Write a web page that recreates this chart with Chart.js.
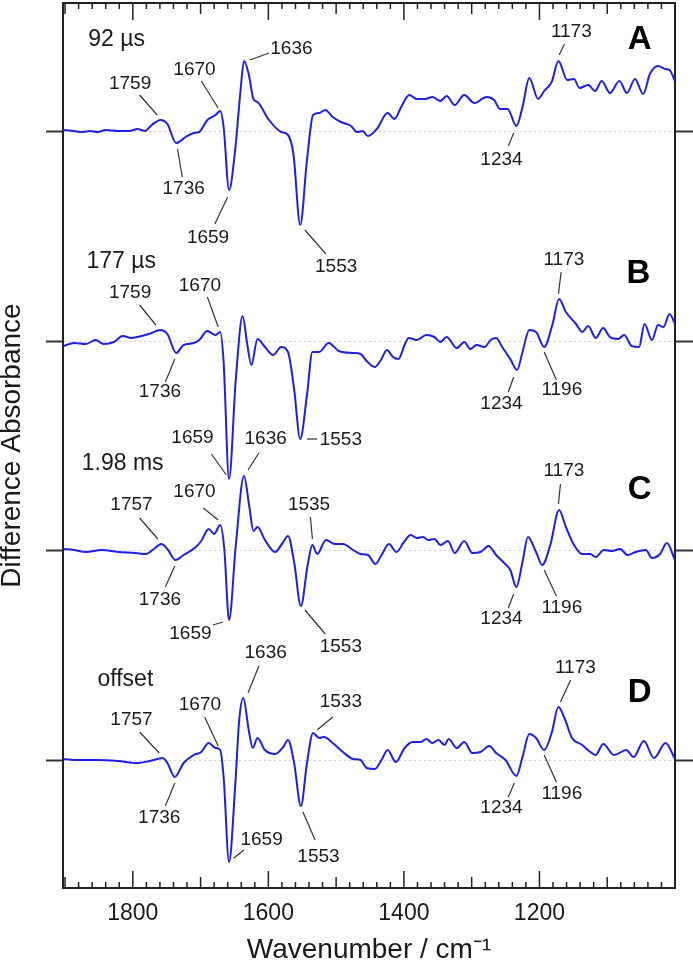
<!DOCTYPE html>
<html>
<head>
<meta charset="utf-8">
<script src="https://cdn.jsdelivr.net/npm/chart.js@4.4.0/dist/chart.umd.min.js"></script>
<style>
  html, body { margin: 0; padding: 0; background: #fff; }
  #chart { display: block; }
</style>
</head>
<body>
<canvas id="chart" width="693" height="967"></canvas>
<script>
// wavenumber (cm-1) and difference absorbance for each trace (arbitrary units)
const wnA = [1902,1887,1875,1863,1852,1840,1822,1805,1793,1782,1772,1759,1749,1736,1722,1710,1702,1690,1678,1671,1666,1658,1649,1641,1636,1629,1622,1616,1599,1581,1571,1563,1553,1543,1534,1525,1516,1505,1493,1478,1469,1461,1453,1440,1424,1414,1404,1392,1381,1369,1358,1346,1337,1325,1311,1296,1278,1267,1258,1247,1234,1225,1215,1202,1193,1182,1172,1159,1149,1141,1128,1118,1108,1096,1082,1071,1059,1047,1037,1025,1014,1008,1000];
const absA = [0.01,0,-0.01,0,-0.01,0.01,0,0,0.02,0,0.06,0.11,0.07,-0.12,-0.06,-0.02,-0.01,0.11,0.16,0.2,0.04,-0.59,-0.19,0.41,0.7,0.57,0.32,0.29,0.11,-0.01,-0.04,-0.23,-0.94,-0.29,0.16,0.18,0.21,0.14,0.09,0.05,-0.01,0,-0.05,0.02,0.18,0.12,0.24,0.36,0.32,0.32,0.34,0.3,0.35,0.26,0.36,0.28,0.34,0.31,0.22,0.22,0.05,0.24,0.53,0.32,0.4,0.49,0.7,0.51,0.52,0.43,0.46,0.4,0.5,0.38,0.5,0.38,0.52,0.37,0.57,0.65,0.62,0.61,0.5];

const wnB = [1902,1887,1869,1855,1843,1828,1815,1802,1787,1772,1760,1749,1736,1725,1710,1702,1690,1678,1671,1666,1658,1648,1638,1631,1625,1616,1605,1593,1581,1571,1562,1553,1543,1535,1525,1511,1496,1475,1464,1455,1443,1434,1425,1416,1408,1399,1393,1381,1367,1355,1346,1337,1322,1311,1302,1293,1281,1272,1264,1255,1243,1233,1225,1215,1205,1193,1181,1171,1161,1146,1137,1128,1117,1106,1096,1084,1075,1064,1053,1045,1034,1025,1017,1008,1000];
const absB = [-0.04,-0.01,-0.02,0.02,-0.02,0,0.06,0.04,0.06,0.09,0.12,0.08,-0.11,-0.03,-0.01,0.02,0.11,0.07,0.1,-0.2,-1.37,-0.37,0.26,-0.03,-0.23,0.03,-0.05,-0.13,-0.05,-0.1,-0.47,-0.97,-0.53,-0.1,-0.1,-0.01,-0.09,-0.11,-0.12,-0.19,-0.25,-0.18,-0.08,-0.15,-0.17,-0.03,0.04,0.02,0.07,0.05,0,0.05,-0.06,0,-0.07,-0.03,-0.05,0.02,0.04,-0.05,-0.17,-0.28,-0.1,0.12,0.1,-0.05,0.17,0.43,0.3,0.18,0.1,0.16,0.04,0.14,0.05,0.03,0.07,-0.04,-0.05,0.18,0.02,0.17,0.15,0.28,0.18];

const wnC = [1902,1887,1869,1846,1822,1796,1781,1769,1758,1749,1737,1725,1707,1699,1688,1680,1671,1665,1658,1648,1636,1628,1622,1616,1605,1590,1580,1571,1562,1552,1542,1535,1528,1515,1502,1490,1475,1464,1453,1442,1433,1422,1411,1400,1390,1381,1372,1364,1355,1346,1335,1325,1311,1299,1287,1275,1264,1252,1243,1234,1225,1217,1205,1196,1184,1171,1161,1149,1137,1125,1117,1105,1093,1081,1070,1058,1043,1034,1022,1012,1000];
const absC = [0.02,0.01,-0.01,0.01,-0.01,-0.02,-0.03,0.02,0.07,0.02,-0.09,-0.04,0.04,0.1,0.22,0.17,0.26,0.02,-0.69,0.06,0.75,0.44,0.2,0.24,0.11,-0.01,0.07,0.15,-0.11,-0.55,-0.14,0.06,-0.03,0.11,0.07,0.07,0.01,-0.03,-0.04,-0.13,-0.04,0.07,-0.01,0.09,0.16,0.13,0.14,0.11,0.12,0.06,0.1,-0.02,0.1,-0.02,-0.01,0.05,-0.04,-0.12,-0.19,-0.36,-0.11,0.14,-0.01,-0.14,0.06,0.41,0.24,0.06,-0.03,-0.03,-0.06,0.01,0,0.02,-0.04,-0.01,0.01,-0.07,-0.03,0.08,-0.09];

const wnD = [1902,1881,1852,1822,1793,1775,1756,1749,1738,1725,1710,1699,1688,1678,1671,1666,1658,1649,1643,1637,1629,1623,1616,1605,1590,1578,1571,1562,1552,1543,1534,1525,1518,1505,1490,1475,1464,1455,1443,1433,1424,1412,1399,1387,1375,1367,1358,1349,1340,1334,1322,1311,1299,1287,1274,1264,1250,1234,1225,1215,1205,1193,1182,1172,1162,1152,1137,1125,1117,1106,1090,1072,1061,1046,1031,1014,1000];
const absD = [0.01,0,0,-0.01,-0.03,-0.01,0.02,-0.03,-0.17,-0.03,0.05,0.08,0.17,0.12,0.1,-0.17,-1.02,-0.27,0.4,0.62,0.3,0.12,0.22,0.1,0.06,0.13,0.2,-0.03,-0.46,-0.03,0.27,0.22,0.23,0.17,0.08,0.01,0,-0.08,-0.09,0,0.1,-0.02,0.12,0.18,0.18,0.21,0.17,0.2,0.15,0.21,0.12,0.18,0.07,0.08,0.14,0.07,0,-0.16,0.03,0.26,0.22,0.1,0.27,0.53,0.4,0.22,0.15,0.08,0.05,0.16,0.05,0.1,0.03,0.19,0.02,0.17,0.01];

const panelOffsets = [6.29, 4.18, 2.09, 0];
const panelLetters = ['A', 'B', 'C', 'D'];
const timeLabels = ['92 \u00b5s', '177 \u00b5s', '1.98 ms', 'offset'];
const xTickValues = [1800, 1600, 1400, 1200];

// where the panel texts sit: [wavenumber, height above the panel baseline]
const letterPos = [[1052, 0.91], [1054, 0.68], [1052, 0.61], [1052, 0.67]];
const timePos = [[1824, 0.91], [1817, 0.80], [1815, 0.87], [1811, 0.80]];

// peak labels: [panel, text, label x, label y, leader x1, y1, x2, y2]
const peakLabels = [
  [0, '1759', 1804, 0.47, 1790, 0.36, 1764, 0.16],
  [0, '1670', 1709, 0.61, 1699, 0.50, 1674, 0.23],
  [0, '1636', 1566, 0.82, 1627, 0.71, 1599, 0.78],
  [0, '1736', 1725, -0.58, 1734, -0.18, 1727, -0.46],
  [0, '1659', 1689, -1.07, 1660, -0.66, 1679, -0.93],
  [0, '1553', 1500, -1.36, 1546, -0.99, 1515, -1.23],
  [0, '1234', 1256, -0.29, 1238, -0.02, 1246, -0.15],
  [0, '1173', 1153, 0.99, 1163, 0.87, 1171, 0.76],

  [1, '1759', 1804, 0.49, 1790, 0.37, 1766, 0.17],
  [1, '1670', 1701, 0.56, 1690, 0.45, 1674, 0.15],
  [1, '1736', 1760, -0.50, 1738, -0.17, 1752, -0.40],
  [1, '1659', 1712, -0.96, 1684, -1.12, 1662, -1.33],
  [1, '1553', 1493, -0.98, 1543, -0.97, 1528, -0.97],
  [1, '1234', 1256, -0.62, 1238, -0.35, 1246, -0.50],
  [1, '1196', 1167, -0.48, 1193, -0.10, 1175, -0.38],
  [1, '1173', 1164, 0.82, 1168, 0.70, 1172, 0.48],

  [2, '1757', 1802, 0.46, 1790, 0.33, 1763, 0.12],
  [2, '1670', 1709, 0.59, 1696, 0.43, 1674, 0.31],
  [2, '1636', 1604, 1.12, 1614, 0.98, 1630, 0.81],
  [2, '1535', 1540, 0.46, 1538, 0.34, 1535, 0.12],
  [2, '1736', 1760, -0.49, 1738, -0.15, 1752, -0.36],
  [2, '1659', 1715, -0.83, 1682, -0.74, 1667, -0.71],
  [2, '1553', 1493, -0.96, 1546, -0.59, 1516, -0.83],
  [2, '1234', 1256, -0.68, 1238, -0.43, 1246, -0.57],
  [2, '1196', 1167, -0.57, 1193, -0.19, 1175, -0.45],
  [2, '1173', 1164, 0.80, 1169, 0.67, 1172, 0.47],

  [3, '1757', 1802, 0.40, 1790, 0.28, 1761, 0.07],
  [3, '1670', 1701, 0.55, 1694, 0.43, 1674, 0.14],
  [3, '1636', 1604, 1.07, 1614, 0.94, 1630, 0.67],
  [3, '1533', 1493, 0.58, 1505, 0.43, 1528, 0.30],
  [3, '1736', 1761, -0.58, 1738, -0.23, 1752, -0.46],
  [3, '1659', 1610, -0.80, 1636, -0.90, 1651, -0.98],
  [3, '1553', 1526, -0.97, 1549, -0.52, 1531, -0.80],
  [3, '1234', 1256, -0.48, 1237, -0.23, 1246, -0.37],
  [3, '1196', 1167, -0.34, 1193, 0.05, 1175, -0.22],
  [3, '1173', 1147, 0.92, 1154, 0.80, 1169, 0.58]
];

const FONT = '"Liberation Sans", Arial, Helvetica, sans-serif';
const INK = '#1a1a1a';
const spectra = [[wnA, absA], [wnB, absB], [wnC, absC], [wnD, absD]];

// inward ticks on top/bottom frame + all the text annotations
const decorations = {
  id: 'decorations',
  afterDraw(chart) {
    const { ctx, chartArea: a, scales: { x, y } } = chart;
    ctx.save();
    ctx.strokeStyle = '#222';
    ctx.lineWidth = 1.5;
    for (let v = 1900; v > 1000; v -= 20) {
      const px = x.getPixelForValue(v);
      const len = v % 200 === 0 ? 17 : (v % 100 === 0 ? 11 : 6);
      ctx.beginPath();
      ctx.moveTo(px, a.bottom); ctx.lineTo(px, a.bottom - len);
      ctx.moveTo(px, a.top); ctx.lineTo(px, a.top + len);
      ctx.stroke();
    }

    ctx.textAlign = 'center';
    ctx.textBaseline = 'middle';
    ctx.fillStyle = INK;

    // leader lines and peak positions
    ctx.strokeStyle = '#333';
    ctx.lineWidth = 1.2;
    ctx.font = '19px ' + FONT;
    peakLabels.forEach(([p, txt, tx, ty, x1, y1, x2, y2]) => {
      const off = panelOffsets[p];
      ctx.beginPath();
      ctx.moveTo(x.getPixelForValue(x1), y.getPixelForValue(y1 + off));
      ctx.lineTo(x.getPixelForValue(x2), y.getPixelForValue(y2 + off));
      ctx.stroke();
      ctx.fillText(txt, x.getPixelForValue(tx), y.getPixelForValue(ty + off));
    });

    ctx.font = '23px ' + FONT;
    timeLabels.forEach((t, i) => {
      ctx.fillText(t, x.getPixelForValue(timePos[i][0]), y.getPixelForValue(timePos[i][1] + panelOffsets[i]));
    });

    ctx.fillStyle = '#000';
    ctx.font = 'bold 33px ' + FONT;
    panelLetters.forEach((t, i) => {
      ctx.fillText(t, x.getPixelForValue(letterPos[i][0]), y.getPixelForValue(letterPos[i][1] + panelOffsets[i]));
    });
    ctx.restore();
  }
};

const baselineTicks = s => { s.ticks = panelOffsets.map(v => ({ value: v })); };

new Chart(document.getElementById('chart').getContext('2d'), {
  type: 'line',
  data: {
    datasets: spectra.map(([wn, ab], i) => ({
      label: panelLetters[i],
      data: wn.map((w, k) => ({ x: w, y: ab[k] + panelOffsets[i] })),
      borderColor: '#1e1ee6',
      borderWidth: 2,
      pointRadius: 0,
      fill: false,
      cubicInterpolationMode: 'monotone',
      xAxisID: 'x',
      yAxisID: 'y'
    }))
  },
  options: {
    responsive: false,
    animation: false,
    events: [],
    layout: { padding: 0 },
    plugins: { legend: { display: false }, tooltip: { enabled: false } },
    scales: {
      x: {
        type: 'linear', position: 'bottom', reverse: true, min: 1000, max: 1903,
        afterBuildTicks: s => { s.ticks = xTickValues.map(v => ({ value: v })); },
        afterFit: s => { s.height = 79; },
        grid: { display: false, drawTicks: false },
        border: { display: true, color: '#222', width: 2 },
        ticks: { padding: 12, color: INK, font: { family: FONT, size: 23 }, maxRotation: 0, autoSkip: false,
                 callback: v => String(v) },
        title: { display: true, text: 'Wavenumber / cm\u207b\u00b9', color: INK, font: { family: FONT, size: 28 }, padding: { top: 0, bottom: 0 } }
      },
      x2: {
        type: 'linear', position: 'top', reverse: true, min: 1000, max: 1903,
        afterFit: s => { s.height = 3; },
        grid: { display: false, drawTicks: false },
        border: { display: true, color: '#222', width: 2 },
        ticks: { display: false }
      },
      y: {
        type: 'linear', position: 'left', min: -1.28, max: 7.57,
        afterBuildTicks: baselineTicks,
        afterFit: s => { s.width = 63; },
        grid: { display: true, drawOnChartArea: true, color: '#cfcfcf', lineWidth: 1,
                drawTicks: true, tickLength: 17, tickColor: '#333', tickWidth: 2 },
        border: { display: true, color: '#222', width: 2, dash: [2, 3] },
        ticks: { display: false },
        title: { display: true, text: 'Difference Absorbance', color: INK, font: { family: FONT, size: 28, lineHeight: 0.9 }, padding: 0 }
      },
      y2: {
        type: 'linear', position: 'right', min: -1.28, max: 7.57,
        afterBuildTicks: baselineTicks,
        afterFit: s => { s.width = 18; },
        grid: { display: true, drawOnChartArea: false, drawTicks: true, tickLength: 18, tickColor: '#333', tickWidth: 2 },
        border: { display: true, color: '#222', width: 2 },
        ticks: { display: false }
      }
    }
  },
  plugins: [decorations]
});
</script>
</body>
</html>
